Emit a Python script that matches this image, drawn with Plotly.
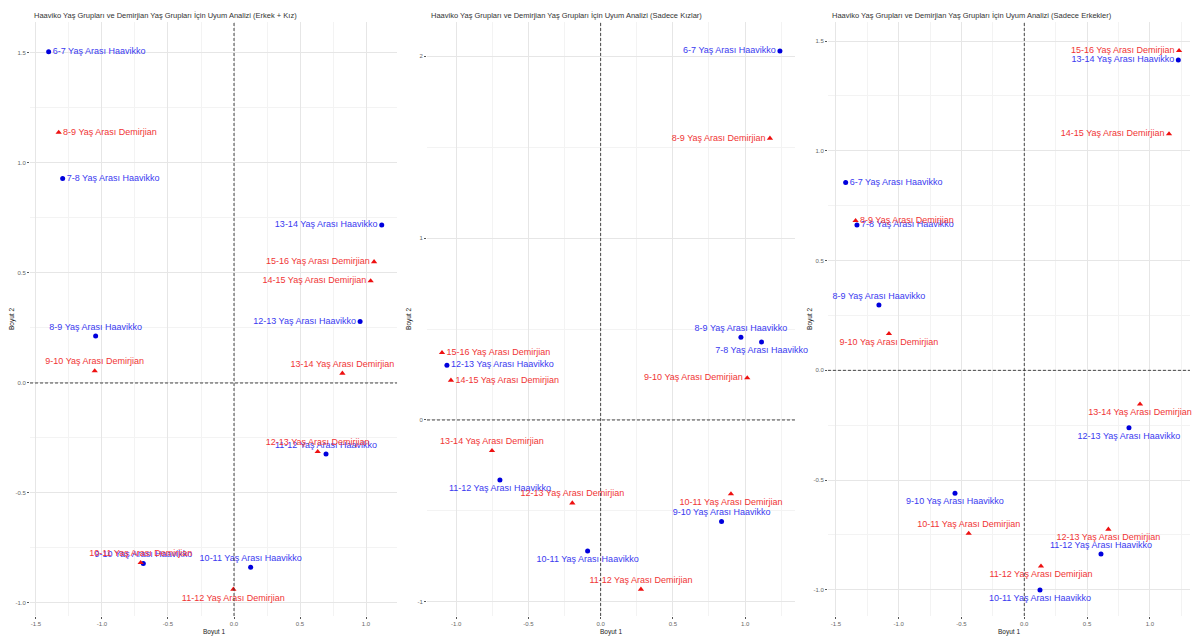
import plotly.graph_objects as go

FONT = "Liberation Sans, Arial, sans-serif"

# ---------------- DATA ----------------
titles = [
    "Haaviko Yaş Grupları ve Demirjian Yaş Grupları İçin Uyum Analizi (Erkek + Kız)",
    "Haaviko Yaş Grupları ve Demirjian Yaş Grupları İçin Uyum Analizi (Sadece Kızlar)",
    "Haaviko Yaş Grupları ve Demirjian Yaş Grupları İçin Uyum Analizi (Sadece Erkekler)",
]

# Panel 1: Erkek + Kız
p1_h_labels = ["6-7 Yaş Arası Haavikko", "7-8 Yaş Arası Haavikko", "8-9 Yaş Arası Haavikko",
               "9-10 Yaş Arası Haavikko", "10-11 Yaş Arası Haavikko", "11-12 Yaş Arası Haavikko",
               "12-13 Yaş Arası Haavikko", "13-14 Yaş Arası Haavikko"]
p1_h_x = [-1.404, -1.298, -1.048, -0.687, 0.126, 0.697, 0.955, 1.119]
p1_h_y = [1.506, 0.930, 0.214, -0.820, -0.838, -0.323, 0.279, 0.718]
p1_h_pos = ["middle right", "middle right", "top center", "top center",
            "top center", "top center", "middle left", "middle left"]

p1_d_labels = ["8-9 Yaş Arası Demirjian", "9-10 Yaş Arası Demirjian", "10-11 Yaş Arası Demirjian",
               "11-12 Yaş Arası Demirjian", "12-13 Yaş Arası Demirjian", "13-14 Yaş Arası Demirjian",
               "14-15 Yaş Arası Demirjian", "15-16 Yaş Arası Demirjian"]
p1_d_x = [-1.328, -1.055, -0.707, -0.005, 0.634, 0.821, 1.035, 1.061]
p1_d_y = [1.139, 0.055, -0.817, -0.938, -0.312, 0.044, 0.464, 0.551]
p1_d_pos = ["middle right", "top center", "top center", "bottom center",
            "top center", "top center", "middle left", "middle left"]

# Panel 2: Sadece Kızlar
p2_h_labels = ["6-7 Yaş Arası Haavikko", "7-8 Yaş Arası Haavikko", "8-9 Yaş Arası Haavikko",
               "9-10 Yaş Arası Haavikko", "10-11 Yaş Arası Haavikko", "11-12 Yaş Arası Haavikko",
               "12-13 Yaş Arası Haavikko"]
p2_h_x = [1.241, 1.114, 0.971, 0.837, -0.090, -0.697, -1.064]
p2_h_y = [2.030, 0.429, 0.455, -0.559, -0.721, -0.330, 0.301]
p2_h_pos = ["middle left", "bottom center", "top center", "top center",
            "bottom center", "bottom center", "middle right"]

p2_d_labels = ["8-9 Yaş Arası Demirjian", "9-10 Yaş Arası Demirjian", "10-11 Yaş Arası Demirjian",
               "11-12 Yaş Arası Demirjian", "12-13 Yaş Arası Demirjian", "13-14 Yaş Arası Demirjian",
               "14-15 Yaş Arası Demirjian", "15-16 Yaş Arası Demirjian"]
p2_d_x = [1.172, 1.015, 0.902, 0.279, -0.196, -0.752, -1.036, -1.098]
p2_d_y = [1.549, 0.231, -0.407, -0.931, -0.457, -0.169, 0.218, 0.370]
p2_d_pos = ["middle left", "middle left", "bottom center", "top center",
            "top center", "top center", "middle right", "middle right"]

# Panel 3: Sadece Erkekler
p3_h_labels = ["6-7 Yaş Arası Haavikko", "7-8 Yaş Arası Haavikko", "8-9 Yaş Arası Haavikko",
               "9-10 Yaş Arası Haavikko", "10-11 Yaş Arası Haavikko", "11-12 Yaş Arası Haavikko",
               "12-13 Yaş Arası Haavikko", "13-14 Yaş Arası Haavikko"]
p3_h_x = [-1.423, -1.333, -1.158, -0.552, 0.125, 0.611, 0.834, 1.227]
p3_h_y = [0.856, 0.662, 0.298, -0.560, -1.001, -0.837, -0.261, 1.414]
p3_h_pos = ["middle right", "middle right", "top center", "bottom center",
            "bottom center", "top center", "bottom center", "middle left"]

p3_d_labels = ["8-9 Yaş Arası Demirjian", "9-10 Yaş Arası Demirjian", "10-11 Yaş Arası Demirjian",
               "11-12 Yaş Arası Demirjian", "12-13 Yaş Arası Demirjian", "13-14 Yaş Arası Demirjian",
               "14-15 Yaş Arası Demirjian", "15-16 Yaş Arası Demirjian"]
p3_d_x = [-1.344, -1.078, -0.443, 0.133, 0.670, 0.922, 1.153, 1.233]
p3_d_y = [0.682, 0.167, -0.743, -0.892, -0.724, -0.154, 1.077, 1.456]
p3_d_pos = ["middle right", "bottom center", "top center", "bottom center",
            "bottom center", "bottom center", "middle left", "middle left"]

# Tick labels
p1_xticks = [-1.5, -1.0, -0.5, 0.0, 0.5, 1.0]
p1_xticktext = ["-1.5", "-1.0", "-0.5", "0.0", "0.5", "1.0"]
p1_yticks = [-1.0, -0.5, 0.0, 0.5, 1.0, 1.5]
p1_yticktext = ["-1.0", "-0.5", "0.0", "0.5", "1.0", "1.5"]

p2_xticks = [-1.0, -0.5, 0.0, 0.5, 1.0]
p2_xticktext = ["-1.0", "-0.5", "0.0", "0.5", "1.0"]
p2_yticks = [-1, 0, 1, 2]
p2_yticktext = ["-1", "0", "1", "2"]

p3_xticks = [-1.5, -1.0, -0.5, 0.0, 0.5, 1.0]
p3_xticktext = ["-1.5", "-1.0", "-0.5", "0.0", "0.5", "1.0"]
p3_yticks = [-1.0, -0.5, 0.0, 0.5, 1.0, 1.5]
p3_yticktext = ["-1.0", "-0.5", "0.0", "0.5", "1.0", "1.5"]

# ---------------- LAYOUT CONFIG ----------------
panels = [
    dict(h=(p1_h_labels, p1_h_x, p1_h_y, p1_h_pos), d=(p1_d_labels, p1_d_x, p1_d_y, p1_d_pos),
         xr=[-1.545, 1.235], yr=[-1.059, 1.641], xt=(p1_xticks, p1_xticktext), yt=(p1_yticks, p1_yticktext),
         dom=[0.0252, 0.3331], xminor=0.25, yminor=0.25),
    dict(h=(p2_h_labels, p2_h_x, p2_h_y, p2_h_pos), d=(p2_d_labels, p2_d_x, p2_d_y, p2_d_pos),
         xr=[-1.202, 1.345], yr=[-1.078, 2.189], xt=(p2_xticks, p2_xticktext), yt=(p2_yticks, p2_yticktext),
         dom=[0.3582, 0.6669], xminor=0.25, yminor=0.5),
    dict(h=(p3_h_labels, p3_h_x, p3_h_y, p3_h_pos), d=(p3_d_labels, p3_d_x, p3_d_y, p3_d_pos),
         xr=[-1.564, 1.320], yr=[-1.119, 1.587], xt=(p3_xticks, p3_xticktext), yt=(p3_yticks, p3_yticktext),
         dom=[0.6946, 0.9983], xminor=0.25, yminor=0.25),
]

BLUE_PT, BLUE_TX = "#0000dd", "#3a3af0"
RED_PT, RED_TX = "#ee1111", "#f03535"
YDOM = [0.033, 0.9655]

fig = go.Figure()
annotations = []
shapes = []

for i, p in enumerate(panels, start=1):
    xa = "x" if i == 1 else f"x{i}"
    ya = "y" if i == 1 else f"y{i}"
    lab, xs, ys, pos = p["h"]
    fig.add_trace(go.Scatter(
        x=xs, y=ys, text=lab, textposition=pos, mode="markers+text",
        marker=dict(symbol="circle", size=5, color=BLUE_PT),
        textfont=dict(family=FONT, size=9, color=BLUE_TX),
        xaxis=xa, yaxis=ya, cliponaxis=False, showlegend=False, hoverinfo="text"))
    lab, xs, ys, pos = p["d"]
    fig.add_trace(go.Scatter(
        x=xs, y=ys, text=lab, textposition=pos, mode="markers+text",
        marker=dict(symbol="triangle-up", size=5.5, color=RED_PT),
        textfont=dict(family=FONT, size=9, color=RED_TX),
        xaxis=xa, yaxis=ya, cliponaxis=False, showlegend=False, hoverinfo="text"))

    axis_common = dict(
        showgrid=True, gridcolor="#e6e6e6", gridwidth=0.8, zeroline=False,
        showline=False, ticks="outside", ticklen=2, tickwidth=0.6, tickcolor="#555555",
        tickfont=dict(family=FONT, size=6, color="#666666"), tickmode="array",
        automargin=False,
    )
    fig.layout[f"xaxis{'' if i == 1 else i}"] = dict(
        axis_common, domain=p["dom"], range=p["xr"], anchor=ya,
        tickvals=p["xt"][0], ticktext=p["xt"][1],
        minor=dict(tickmode="linear", tick0=0, dtick=p["xminor"], showgrid=True,
                   gridcolor="#f3f3f3", gridwidth=0.5, ticks=""))
    fig.layout[f"yaxis{'' if i == 1 else i}"] = dict(
        axis_common, domain=YDOM, range=p["yr"], anchor=xa,
        tickvals=p["yt"][0], ticktext=p["yt"][1],
        minor=dict(tickmode="linear", tick0=0, dtick=p["yminor"], showgrid=True,
                   gridcolor="#f3f3f3", gridwidth=0.5, ticks=""))

    # reference dashed lines at 0
    shapes.append(dict(type="line", xref=xa, yref=f"{ya} domain", x0=0, x1=0, y0=0, y1=1,
                       line=dict(color="#333333", width=0.9, dash="3px,2px")))
    shapes.append(dict(type="line", xref=f"{xa} domain", yref=ya, x0=0, x1=1, y0=0, y1=0,
                       line=dict(color="#333333", width=0.9, dash="3px,2px")))

    # title
    annotations.append(dict(text=titles[i - 1], xref="paper", yref="paper", x=p["dom"][0] + 0.002,
                            y=1 - 15 / 637, xanchor="left", yanchor="middle", showarrow=False,
                            font=dict(family=FONT, size=7.5, color="#333333")))
    # axis titles
    annotations.append(dict(text="Boyut 1", xref="paper", yref="paper",
                            x=(p["dom"][0] + p["dom"][1]) / 2, y=1 - 632 / 637,
                            xanchor="center", yanchor="middle", showarrow=False,
                            font=dict(family=FONT, size=6.5, color="#222222")))
    annotations.append(dict(text="Boyut 2", xref="paper", yref="paper",
                            x=p["dom"][0] - 18 / 1192, y=(YDOM[0] + YDOM[1]) / 2,
                            xanchor="center", yanchor="middle", textangle=-90, showarrow=False,
                            font=dict(family=FONT, size=6.5, color="#222222")))

fig.update_layout(
    width=1192, height=637,
    margin=dict(l=0, r=0, t=0, b=0),
    paper_bgcolor="white", plot_bgcolor="white",
    font=dict(family=FONT),
    annotations=annotations, shapes=shapes,
    showlegend=False,
)

fig.write_html("out.html", config={"displayModeBar": False},
               post_script="document.body.style.margin='0px';document.body.style.overflow='hidden';")
